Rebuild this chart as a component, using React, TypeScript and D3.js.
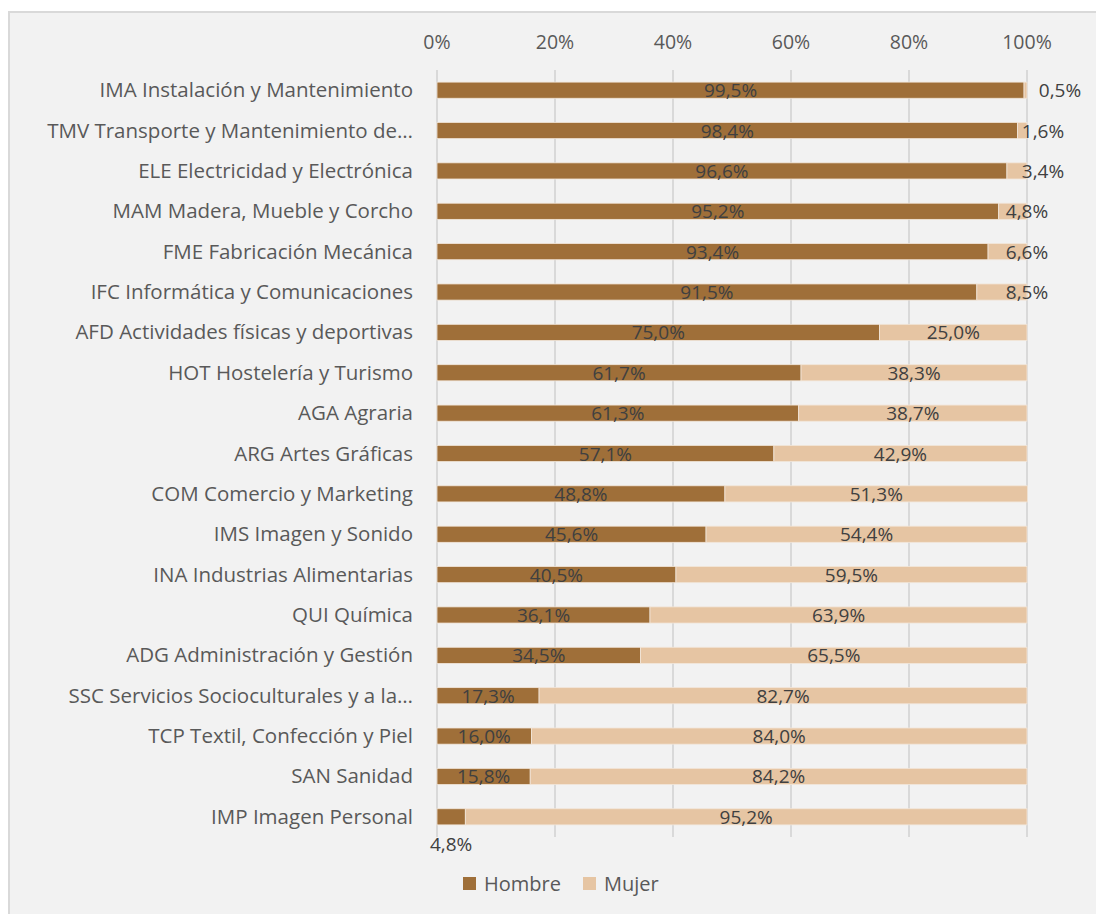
import React, { useEffect } from "react";
import * as d3 from "d3";

const categories: string[] = [
  "IMA Instalación y Mantenimiento",
  "TMV Transporte y Mantenimiento de…",
  "ELE Electricidad y Electrónica",
  "MAM Madera, Mueble y Corcho",
  "FME Fabricación Mecánica",
  "IFC Informática y Comunicaciones",
  "AFD Actividades físicas y deportivas",
  "HOT Hostelería y Turismo",
  "AGA Agraria",
  "ARG Artes Gráficas",
  "COM Comercio y Marketing",
  "IMS Imagen y Sonido",
  "INA Industrias Alimentarias",
  "QUI Química",
  "ADG Administración y Gestión",
  "SSC Servicios Socioculturales y a la…",
  "TCP Textil, Confección y Piel",
  "SAN Sanidad",
  "IMP Imagen Personal",
];
const hombre: number[] = [99.5, 98.4, 96.6, 95.2, 93.4, 91.5, 75.0, 61.7, 61.3, 57.1, 48.8, 45.6, 40.5, 36.1, 34.5, 17.3, 16.0, 15.8, 4.8];
const mujer: number[] = [0.5, 1.6, 3.4, 4.8, 6.6, 8.5, 25.0, 38.3, 38.7, 42.9, 51.3, 54.4, 59.5, 63.9, 65.5, 82.7, 84.0, 84.2, 95.2];
const ticks: number[] = [0, 20, 40, 60, 80, 100];
const seriesNames: string[] = ["Hombre", "Mujer"];

const W = 1096;
const H = 914;
const C_H = "#9f6f39";
const C_M = "#e6c5a3";
const FONT = "'Open Sans', 'Noto Sans', sans-serif";

const fmt = (v: number) => v.toFixed(1).replace(".", ",") + "%";

export default function App() {
  useEffect(() => {
    document.body.style.margin = "0";
  }, []);

  const x = d3.scaleLinear().domain([0, 100]).range([437, 1027]);
  const y = d3.scaleBand<string>().domain(categories).range([70, 837]).paddingInner(0.6).paddingOuter(0.3);
  const bw = y.bandwidth();

  const smallOffset = (v: number) => (v < 1 ? 33 : v < 4 ? 16 : 0);

  return (
    <svg width={W} height={H} style={{ display: "block", fontFamily: FONT }}>
      <rect x={0} y={0} width={W} height={H} fill="#ffffff" />
      <rect x={9} y={12} width={W + 10} height={H + 10} fill="#f2f2f2" stroke="#d9d9d9" strokeWidth={2} />
      {ticks.map((t) => (
        <g key={t}>
          <line x1={x(t)} x2={x(t)} y1={70} y2={837} stroke="#d9d9d9" strokeWidth={2} />
          <text x={x(t)} y={49} textAnchor="middle" fontSize={19.5} fill="#595959">
            {t}%
          </text>
        </g>
      ))}
      {categories.map((c, i) => {
        const yy = y(c) as number;
        const cy = yy + bw / 2;
        const xh = x(hombre[i]);
        const xm = x(hombre[i] + mujer[i]);
        const hCenter = (x(0) + xh) / 2;
        const mCenter = Math.max((xh + xm) / 2, x(100)) + (mujer[i] < 10 ? smallOffset(mujer[i]) : 0);
        const mx = mujer[i] < 10 ? mCenter : (xh + xm) / 2;
        const hSmall = hombre[i] < 10;
        return (
          <g key={c}>
            <text x={413} y={cy + 7} textAnchor="end" fontSize={20.5} fill="#595959">
              {c}
            </text>
            <rect x={x(0)} y={yy} width={xh - x(0)} height={bw} fill={C_H} stroke="#f2e6da" strokeWidth={0.8} />
            <rect x={xh} y={yy} width={xm - xh} height={bw} fill={C_M} stroke="#f2e6da" strokeWidth={0.8} />
            <text x={hCenter} y={hSmall ? cy + 34 : cy + 7} textAnchor="middle" fontSize={19} fill="#404040">
              {fmt(hombre[i])}
            </text>
            <text x={mx} y={cy + 7} textAnchor="middle" fontSize={19} fill="#404040">
              {fmt(mujer[i])}
            </text>
          </g>
        );
      })}
      {seriesNames.map((s, i) => {
        const lx = [463, 583][i];
        return (
          <g key={s}>
            <rect x={lx} y={877} width={13} height={13} fill={i === 0 ? C_H : C_M} />
            <text x={lx + 21} y={891} fontSize={20} fill="#595959">
              {s}
            </text>
          </g>
        );
      })}
    </svg>
  );
}
